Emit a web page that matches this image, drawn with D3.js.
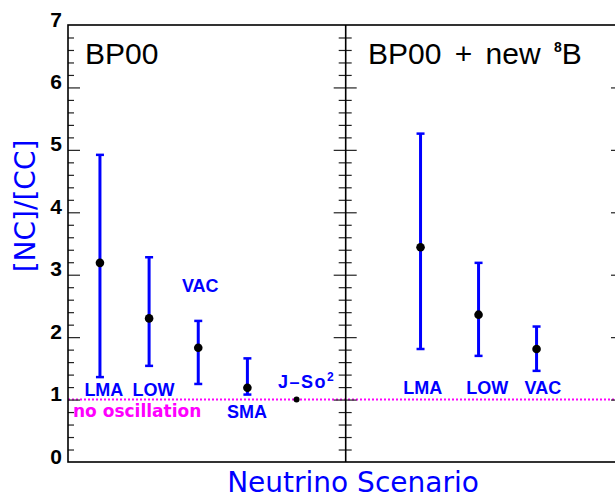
<!DOCTYPE html>
<html>
<head>
<meta charset="utf-8">
<script src="https://cdn.jsdelivr.net/npm/d3@7"></script>
<style>
  body { margin: 0; background: #fff; }
  svg { display: block; }
</style>
</head>
<body>
<div id="chart"></div>
<script>
// chart data
const tickLabels = [0, 1, 2, 3, 4, 5, 6, 7];
const minorTicks = [0.2, 0.4, 0.6, 0.8, 1.2, 1.4, 1.6, 1.8, 2.2, 2.4, 2.6, 2.8,
  3.2, 3.4, 3.6, 3.8, 4.2, 4.4, 4.6, 4.8, 5.2, 5.4, 5.6, 5.8, 6.2, 6.4, 6.6, 6.8];

// left panel: BP00
const bp00Scenarios = ["LMA", "LOW", "VAC", "SMA", "J–So"];
const bp00Ratio = [3.19, 2.30, 1.83, 1.19, 1.00];
const bp00Low = [1.36, 1.54, 1.25, 1.08, null];
const bp00High = [4.92, 3.28, 2.26, 1.66, null];
// where the scenario names sit (x in scenario units, y in ratio units)
const bp00LabelX = [1.08, 2.09, 3.04, 3.99, 5.19];
const bp00LabelY = [1.06, 1.06, 2.72, 0.70, 1.18];

// right panel: BP00 + new 8B
const newScenarios = ["LMA", "LOW", "VAC"];
const newRatio = [3.44, 2.36, 1.81];
const newLow = [1.81, 1.70, 1.46];
const newHigh = [5.26, 3.19, 2.17];
const newLabelX = [1.04, 2.15, 3.11];
const newLabelY = [1.09, 1.09, 1.09];

const noOscRatio = 1;

// layout
const WIDTH = 615;
const HEIGHT = 495;
const LEFT = 68;
const MID = 345.7;
const RIGHT = 623;
const TOP = 25;
const BOTTOM = 462;

const svg = d3.select("#chart")
  .append("svg")
  .attr("width", WIDTH)
  .attr("height", HEIGHT);

// scales
const y = d3.scaleLinear().domain([0, 7]).range([BOTTOM, TOP]);
const xLeft = d3.scaleLinear().domain([0.35, 6]).range([LEFT, MID]);
const xRight = d3.scaleLinear().domain([-0.29, 4.49]).range([MID, RIGHT]);

// no-oscillation reference line
svg.append("line")
  .attr("x1", LEFT).attr("x2", RIGHT)
  .attr("y1", y(noOscRatio)).attr("y2", y(noOscRatio))
  .attr("stroke", "#ff00ff")
  .attr("stroke-width", 2)
  .attr("stroke-dasharray", "2,2");

svg.append("text")
  .attr("x", 73)
  .attr("y", y(0.72))
  .attr("fill", "#ff00ff")
  .style("font", "bold 17px 'DejaVu Sans'")
  .text("no oscillation");

// axis helper: ticks without domain path
function tickAxis(axis, xPos, cls) {
  const g = svg.append("g")
    .attr("class", cls)
    .attr("transform", `translate(${xPos},0)`)
    .call(axis);
  g.select(".domain").remove();
  g.selectAll("line").attr("stroke", "#222").attr("stroke-width", 1.2);
  return g;
}

// left axis, major ticks with labels
const leftMajor = tickAxis(
  d3.axisLeft(y).tickValues(tickLabels).tickFormat(d3.format("d"))
    .tickSizeInner(-12).tickSizeOuter(0).tickPadding(6),
  LEFT, "left-major");
leftMajor.selectAll("text")
  .attr("dy", null)
  .attr("y", 1)
  .attr("fill", "#000")
  .style("font", "bold 21px 'Liberation Sans'");
leftMajor.selectAll(".tick").filter(d => d === 0 || d === 7).select("line").remove();

tickAxis(d3.axisLeft(y).tickValues(minorTicks).tickSize(-6).tickFormat(""), LEFT, "left-minor");

// middle divider ticks on both sides
tickAxis(d3.axisLeft(y).tickValues(tickLabels.slice(1, 7)).tickSize(12).tickFormat(""), MID, "mid-a");
tickAxis(d3.axisRight(y).tickValues(tickLabels.slice(1, 7)).tickSize(11).tickFormat(""), MID, "mid-b");
tickAxis(d3.axisLeft(y).tickValues(minorTicks).tickSize(7).tickFormat(""), MID, "mid-c");
tickAxis(d3.axisRight(y).tickValues(minorTicks).tickSize(6).tickFormat(""), MID, "mid-d");

// right frame ticks (frame itself is just off the page)
tickAxis(d3.axisRight(y).tickValues(tickLabels.slice(1, 7)).tickSize(-12).tickFormat(""), RIGHT, "right-major");
tickAxis(d3.axisRight(y).tickValues(minorTicks).tickSize(-6).tickFormat(""), RIGHT, "right-minor");

// frame
svg.append("rect")
  .attr("x", LEFT).attr("y", TOP)
  .attr("width", RIGHT - LEFT).attr("height", BOTTOM - TOP)
  .attr("fill", "none")
  .attr("stroke", "#000")
  .attr("stroke-width", 1.6);
svg.append("line")
  .attr("x1", MID).attr("x2", MID)
  .attr("y1", TOP).attr("y2", BOTTOM)
  .attr("stroke", "#000")
  .attr("stroke-width", 1.6);

// error bars and points
function drawPanel(x, ratio, low, high, cls) {
  const idx = ratio.map((d, i) => i);
  const withErr = idx.filter(i => low[i] !== null);
  const g = svg.append("g").attr("class", cls);

  g.selectAll(".bar")
    .data(withErr)
    .enter()
    .append("line")
    .attr("x1", i => x(i + 1)).attr("x2", i => x(i + 1))
    .attr("y1", i => y(low[i])).attr("y2", i => y(high[i]))
    .attr("stroke", "#0000ff")
    .attr("stroke-width", 3);

  [low, high].forEach(ends => {
    g.selectAll(null)
      .data(withErr)
      .enter()
      .append("line")
      .attr("x1", i => x(i + 1) - 4).attr("x2", i => x(i + 1) + 4)
      .attr("y1", i => y(ends[i])).attr("y2", i => y(ends[i]))
      .attr("stroke", "#0000ff")
      .attr("stroke-width", 2.5);
  });

  g.selectAll("circle")
    .data(idx)
    .enter()
    .append("circle")
    .attr("cx", i => x(i + 1))
    .attr("cy", i => y(ratio[i]))
    .attr("r", i => (low[i] === null ? 3 : 4.3))
    .attr("fill", "#000");
}

drawPanel(xLeft, bp00Ratio, bp00Low, bp00High, "bp00");
drawPanel(xRight, newRatio, newLow, newHigh, "newb8");

// scenario names
function drawNames(x, names, lx, ly) {
  names.forEach((name, i) => {
    const t = svg.append("text")
      .attr("x", x(lx[i]))
      .attr("y", y(ly[i]))
      .attr("text-anchor", "middle")
      .attr("fill", "#0000ff")
      .style("font", "bold 18px 'Liberation Sans'");
    if (name === "J–So") {
      t.append("tspan").style("letter-spacing", "1.5px").text("J–So");
      t.append("tspan").attr("dy", -7).style("font-size", "12px").text("2");
    } else {
      t.text(name);
    }
  });
}
drawNames(xLeft, bp00Scenarios, bp00LabelX, bp00LabelY);
drawNames(xRight, newScenarios, newLabelX, newLabelY);

// panel titles
svg.append("text")
  .attr("x", 85).attr("y", 64)
  .style("font", "30px 'Liberation Sans'")
  .text("BP00");

const t2 = svg.append("text")
  .attr("x", 368).attr("y", 64)
  .style("font", "30px 'Liberation Sans'")
  .style("word-spacing", "5px");
t2.append("tspan").text("BP00 + new ");
t2.append("tspan").attr("dy", -12).style("font", "bold 14px 'Liberation Sans'").text("8");
t2.append("tspan").attr("dy", 12).text("B");

// axis titles
svg.append("text")
  .attr("transform", "translate(35,206) rotate(-90)")
  .attr("text-anchor", "middle")
  .attr("fill", "#0000ff")
  .style("font", "28px 'DejaVu Sans'")
  .text("[NC]/[CC]");

svg.append("text")
  .attr("x", 353).attr("y", 492)
  .attr("text-anchor", "middle")
  .attr("fill", "#0000ff")
  .style("font", "28px 'DejaVu Sans'")
  .text("Neutrino Scenario");
</script>
</body>
</html>
